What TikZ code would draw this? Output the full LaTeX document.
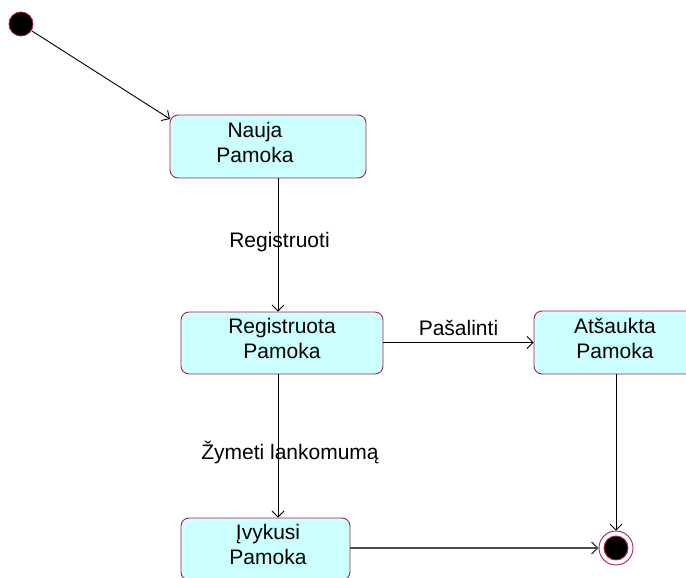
\documentclass[tikz,border=0pt]{standalone}
\usepackage{fontspec}
\setmainfont{Liberation Sans}
\usetikzlibrary{arrows.meta}
\definecolor{stateFill}{RGB}{204,255,255}
\definecolor{stateLine}{RGB}{170,30,80}
\begin{document}
\begin{tikzpicture}[x=1pt,y=-1pt,
  state/.style={draw=stateLine, fill=stateFill, line width=0.9pt, rounded corners=8pt, rectangle, inner sep=0pt},
  stxt/.style={align=center, font=\fontsize{21}{25}\selectfont, inner sep=0pt},
  lbl/.style={font=\fontsize{21}{25}\selectfont, inner sep=0pt},
  trans/.style={draw=black, line width=0.9pt, -{Straight Barb[length=6pt,width=12pt]}},
]
\clip (0,0) rectangle (686,578);
\fill[white] (0,0) rectangle (686,578);

% states
\node[state, minimum width=196pt, minimum height=63pt] (nauja) at (268,146.5) {};
\node[state, minimum width=202pt, minimum height=62pt] (reg) at (282,343) {};
\node[state, minimum width=164pt, minimum height=63pt] (ats) at (616,342.5) {};
\node[state, minimum width=169pt, minimum height=62pt] (ivy) at (265.5,549) {};

\node[stxt] (naujaT) at (255,142.5) {Nauja\\Pamoka};
\node[stxt] (regT) at (282,338.5) {Registruota\\Pamoka};
\node[stxt] (atsT) at (615,338.5) {Atšaukta\\Pamoka};
\node[stxt] (ivyT) at (268,544.5) {Įvykusi\\Pamoka};

% pseudo-states
\node[circle, draw=stateLine, fill=black, line width=0.9pt, minimum size=24pt, inner sep=0pt] (init) at (21,24) {};
\node[circle, draw=stateLine, fill=white, line width=0.9pt, minimum size=34pt, inner sep=0pt] (fin) at (616,548) {};
\node[circle, draw=stateLine, fill=black, line width=0.9pt, minimum size=24pt, inner sep=0pt] (finDot) at (fin) {};

% helper coordinates
\coordinate (entry) at (170,119);
\coordinate (xa) at (278,0);

% transitions (shifts are in page direction: positive yshift moves up)
\draw[trans] (init) -- (entry);
\draw[trans] (nauja.south -| xa) -- node[lbl, pos=0.5, xshift=1.5pt, yshift=3pt] (l1) {Registruoti} (reg.north -| xa);
\draw[trans] (reg.east |- ats) -- node[lbl, pos=0.5, yshift=15pt] (l2) {Pašalinti} (ats.west);
\draw[trans] (reg.south -| xa) -- node[lbl, pos=0.5, xshift=12pt, yshift=-7pt] (l3) {Žymeti lankomumą} (ivy.north -| xa);
\draw[trans] (ats.south -| fin) -- (fin.north);
\draw[trans, draw=black!70, line width=1.3pt] (ivy.east |- fin) -- (fin.west);
\end{tikzpicture}
\end{document}
